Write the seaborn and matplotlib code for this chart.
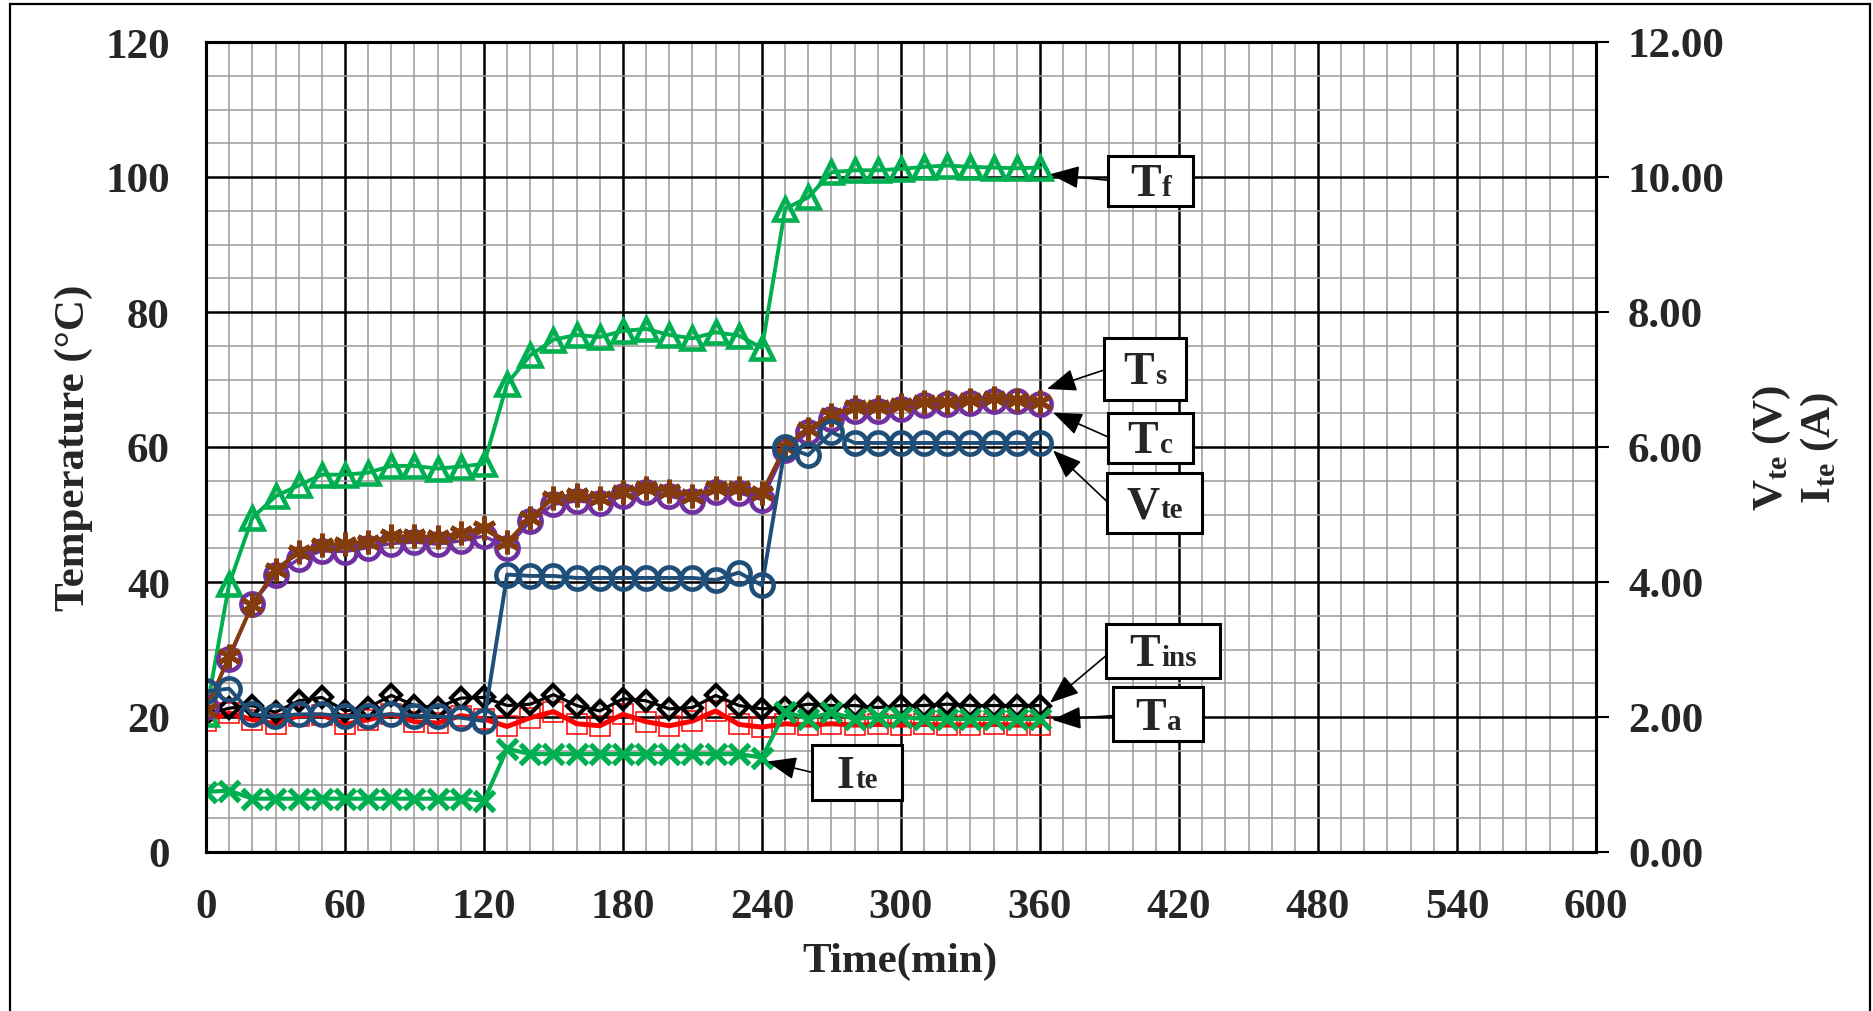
import matplotlib
matplotlib.use("Agg")
import matplotlib.pyplot as plt
import pandas as pd
import seaborn as sns
from matplotlib.patches import Rectangle
from matplotlib.offsetbox import TextArea, HPacker, AnnotationBbox
from matplotlib.ticker import MultipleLocator, FormatStrFormatter

# ---- measured data (sampled every 10 min) ----
time_min = [0, 10, 20, 30, 40, 50, 60, 70, 80, 90, 100, 110, 120,
            130, 140, 150, 160, 170, 180, 190, 200, 210, 220, 230, 240,
            250, 260, 270, 280, 290, 300, 310, 320, 330, 340, 350, 360]

T_f = [20.5, 39.7, 49.5, 52.7, 54.3, 55.9, 55.9, 56.2, 57.2, 57.2, 56.8, 57.1, 57.5,
       69.4, 73.6, 75.9, 76.6, 76.3, 77.2, 77.5, 76.6, 76.1, 77.0, 76.5, 74.7,
       95.3, 97.0, 100.7, 101.0, 101.0, 101.2, 101.5, 101.7, 101.5, 101.4, 101.3, 101.4]

T_c = [21.5, 28.6, 36.8, 41.0, 43.4, 44.6, 44.5, 45.1, 45.7, 45.9, 45.6, 46.1, 46.8,
       45.1, 49.0, 51.5, 52.0, 51.7, 52.7, 53.4, 52.7, 52.0, 53.4, 53.2, 52.2,
       59.5, 62.2, 64.2, 65.4, 65.4, 65.7, 66.2, 66.3, 66.5, 66.8, 66.8, 66.4]

T_s = [21.0, 29.0, 36.6, 41.8, 44.4, 45.5, 45.7, 45.9, 46.8, 46.8, 46.7, 47.2, 48.0,
       45.9, 49.5, 52.4, 52.9, 52.5, 53.4, 54.0, 53.5, 52.7, 53.9, 53.9, 53.2,
       60.0, 62.7, 64.7, 65.9, 65.9, 66.2, 66.7, 66.7, 66.9, 67.2, 67.0, 66.7]

T_ins = [20.4, 21.3, 21.7, 20.7, 22.4, 22.9, 20.9, 21.4, 23.2, 21.7, 21.4, 22.8, 22.9,
         21.7, 21.9, 23.3, 21.7, 20.9, 22.7, 22.4, 21.2, 21.4, 23.2, 21.7, 21.2,
         21.4, 21.9, 21.7, 21.7, 21.4, 21.7, 21.7, 21.9, 21.7, 21.7, 21.7, 21.7]

T_a = [19.4, 20.6, 19.6, 19.0, 20.2, 20.3, 18.9, 19.6, 20.4, 19.3, 19.1, 20.2, 19.7,
       18.6, 19.9, 20.8, 19.0, 18.7, 20.4, 19.3, 18.7, 19.4, 20.9, 18.9, 18.5,
       19.0, 18.8, 19.0, 18.8, 18.9, 18.8, 18.9, 18.8, 18.8, 18.9, 18.8, 18.8]

V_te = [2.38, 2.42, 2.04, 2.01, 2.04, 2.04, 2.01, 2.02, 2.04, 2.02, 2.01, 1.99, 1.94,
        4.11, 4.09, 4.09, 4.06, 4.06, 4.06, 4.06, 4.06, 4.06, 4.03, 4.14, 3.95,
        6.00, 5.88, 6.22, 6.06, 6.06, 6.06, 6.06, 6.06, 6.06, 6.06, 6.06, 6.06]

I_te = [0.89, 0.91, 0.79, 0.79, 0.79, 0.79, 0.79, 0.79, 0.79, 0.79, 0.79, 0.79, 0.76,
        1.53, 1.45, 1.45, 1.45, 1.45, 1.45, 1.45, 1.45, 1.45, 1.45, 1.45, 1.40,
        2.08, 1.97, 2.07, 1.97, 2.00, 2.00, 1.97, 1.97, 1.97, 1.97, 1.97, 1.97]

x_ticks = [0, 60, 120, 180, 240, 300, 360, 420, 480, 540, 600]
y_ticks = [0, 20, 40, 60, 80, 100, 120]
y2_ticks = [0, 2, 4, 6, 8, 10, 12]

df = pd.DataFrame({"time": time_min, "Tf": T_f, "Tc": T_c, "Ts": T_s,
                   "Tins": T_ins, "Ta": T_a, "Vte": V_te, "Ite": I_te})

# ---- style ----
sns.set_style("white")
SERIF = ["Liberation Serif", "DejaVu Serif"]
plt.rcParams["font.family"] = SERIF
plt.rcParams["font.weight"] = "bold"
plt.rcParams["mathtext.fontset"] = "custom"
plt.rcParams["mathtext.rm"] = "Liberation Serif:bold"
plt.rcParams["mathtext.bf"] = "Liberation Serif:bold"
plt.rcParams["mathtext.it"] = "Liberation Serif:bold"

GREEN = "#00B050"
BROWN = "#843C0C"
PURPLE = "#7030A0"
NAVY = "#1F4E79"
RED = "#FF0000"

W, H = 1874, 1012
fig = plt.figure(figsize=(W / 100, H / 100), dpi=100)
fig.patch.set_facecolor("white")
ax = fig.add_axes([206 / W, 1 - 853 / H, 1390 / W, 810 / H])
ax2 = ax.twinx()

# ---- temperature series (left axis) ----
open_kw = dict(markerfacecolor="none")
sns.lineplot(data=df, x="time", y="Ta", ax=ax, color=RED, lw=3.6, marker="s",
             markersize=14, markeredgecolor=RED, markeredgewidth=1.1, **open_kw)
sns.lineplot(data=df, x="time", y="Tins", ax=ax, color="black", lw=2.3, marker="D",
             markersize=10, markeredgecolor="black", markeredgewidth=3.0, **open_kw)
sns.lineplot(data=df, x="time", y="Tf", ax=ax, color=GREEN, lw=2.8, marker="^",
             markersize=16, markeredgecolor=GREEN, markeredgewidth=3.3, **open_kw)
sns.lineplot(data=df, x="time", y="Tc", ax=ax, color=PURPLE, lw=2.4, marker="o",
             markersize=16, markeredgecolor=PURPLE, markeredgewidth=3.3, **open_kw)
sns.lineplot(data=df, x="time", y="Ts", ax=ax, color=BROWN, lw=2.8, marker=(6, 2, 0),
             markersize=17, markeredgecolor=BROWN, markeredgewidth=3.6, **open_kw)

# ---- electrical series (right axis) ----
sns.lineplot(data=df, x="time", y="Vte", ax=ax2, color=NAVY, lw=2.8, marker="o",
             markersize=16, markeredgecolor=NAVY, markeredgewidth=3.3, **open_kw)
sns.lineplot(data=df, x="time", y="Ite", ax=ax2, color=GREEN, lw=3.0, marker="x",
             markersize=14, markeredgecolor=GREEN, markeredgewidth=3.8)

# ---- axes, grid, ticks ----
ax.set_xlim(0, 600)
ax.set_ylim(0, 120)
ax2.set_ylim(0, 12)
ax.set_xticks(x_ticks)
ax.set_yticks(y_ticks)
ax2.set_yticks(y2_ticks)
ax2.yaxis.set_major_formatter(FormatStrFormatter("%.2f"))
ax.xaxis.set_minor_locator(MultipleLocator(10))
ax.yaxis.set_minor_locator(MultipleLocator(5))
ax.set_axisbelow(True)
ax.grid(which="minor", color="#9a9a9a", lw=1.1)
ax.grid(which="major", color="black", lw=1.8)
ax2.grid(False)
ax.set_xlabel("")
ax.set_ylabel("")
ax2.set_ylabel("")

TICK_FS = 31
ax.tick_params(axis="x", which="major", length=0, pad=26, labelsize=TICK_FS)
ax.tick_params(axis="y", which="major", length=0, pad=26, labelsize=TICK_FS)
ax.tick_params(which="minor", length=0)
ax2.tick_params(axis="y", which="major", length=9, width=1.5, color="black",
                direction="out", pad=14, labelsize=TICK_FS)
for a in (ax, ax2):
    for sp in a.spines.values():
        sp.set_color("black")
        sp.set_linewidth(2.2)
    for lab in a.get_xticklabels() + a.get_yticklabels():
        lab.set_fontweight("bold")

# ---- axis titles ----
LAB_FS = 31
fig.text(74 / W, 1 - 448 / H, "Temperature (°C)", rotation=90, ha="center",
         va="center", fontsize=LAB_FS, fontweight="bold")
fig.text(900 / W, 1 - 962 / H, "Time(min)", ha="center", va="center",
         fontsize=LAB_FS, fontweight="bold")
fig.text(1772 / W, 1 - 448 / H, r"V$_{\rm te}$ (V)", rotation=90, ha="center",
         va="center", fontsize=LAB_FS, fontweight="bold")
fig.text(1820 / W, 1 - 448 / H, r"I$_{\rm te}$ (A)", rotation=90, ha="center",
         va="center", fontsize=LAB_FS, fontweight="bold")

# ---- callout boxes with arrows (positions in temperature/time units) ----
callouts = [
    # main, suffix, box centre, box size, arrow start, arrow tip
    ("T", "f",   (407.9, 99.4), (36.7, 7.5), (389.8, 99.5), (364.3, 100.4)),
    ("T", "s",   (405.3, 71.6), (35.4, 9.2), (387.6, 71.4), (363.0, 68.6)),
    ("T", "c",   (407.5, 61.4), (36.7, 7.4), (389.3, 61.5), (365.6, 65.1)),
    ("V", "te",  (409.6, 51.7), (41.0, 8.9), (389.3, 51.8), (365.6, 59.5)),
    ("T", "ins", (413.1, 29.8), (48.8, 8.1), (388.9, 29.2), (364.3, 22.1)),
    ("T", "a",   (411.0, 20.4), (38.8, 8.0), (391.5, 20.2), (365.2, 19.6)),
    ("I", "te",  (281.0, 11.8), (38.8, 8.1), (261.6, 11.8), (242.2, 13.4)),
]
tdata = ax.transData
for main, sub, (cx, cy), (bw, bh), start, tip in callouts:
    ax2.annotate("", xy=tip, xycoords=tdata, xytext=start, textcoords=tdata,
                 arrowprops=dict(arrowstyle="-|>,head_length=0.9,head_width=0.35",
                                 color="black", lw=1.2, shrinkA=0, shrinkB=0,
                                 mutation_scale=20),
                 zorder=6)
    box = Rectangle((cx - bw / 2, cy - bh / 2), bw, bh, transform=tdata,
                    facecolor="white", edgecolor="black", lw=2.2, zorder=7)
    ax2.add_patch(box)
    packed = HPacker(children=[
        TextArea(main, textprops=dict(fontsize=33, fontweight="bold", family=SERIF)),
        TextArea(sub, textprops=dict(fontsize=21, fontweight="bold", family=SERIF)),
    ], align="baseline", pad=0, sep=1)
    ab = AnnotationBbox(packed, (cx, cy - 0.5), xycoords=tdata, frameon=False,
                        box_alignment=(0.5, 0.5), zorder=8)
    ax2.add_artist(ab)

# thin frame around the whole figure
fig.add_artist(Rectangle((10 / W, -0.01), 1860 / W, (1012 - 5) / H + 0.01,
                         transform=fig.transFigure, fill=False, lw=1.6,
                         edgecolor="black"))

fig.savefig("out.png", dpi=100, facecolor="white")
